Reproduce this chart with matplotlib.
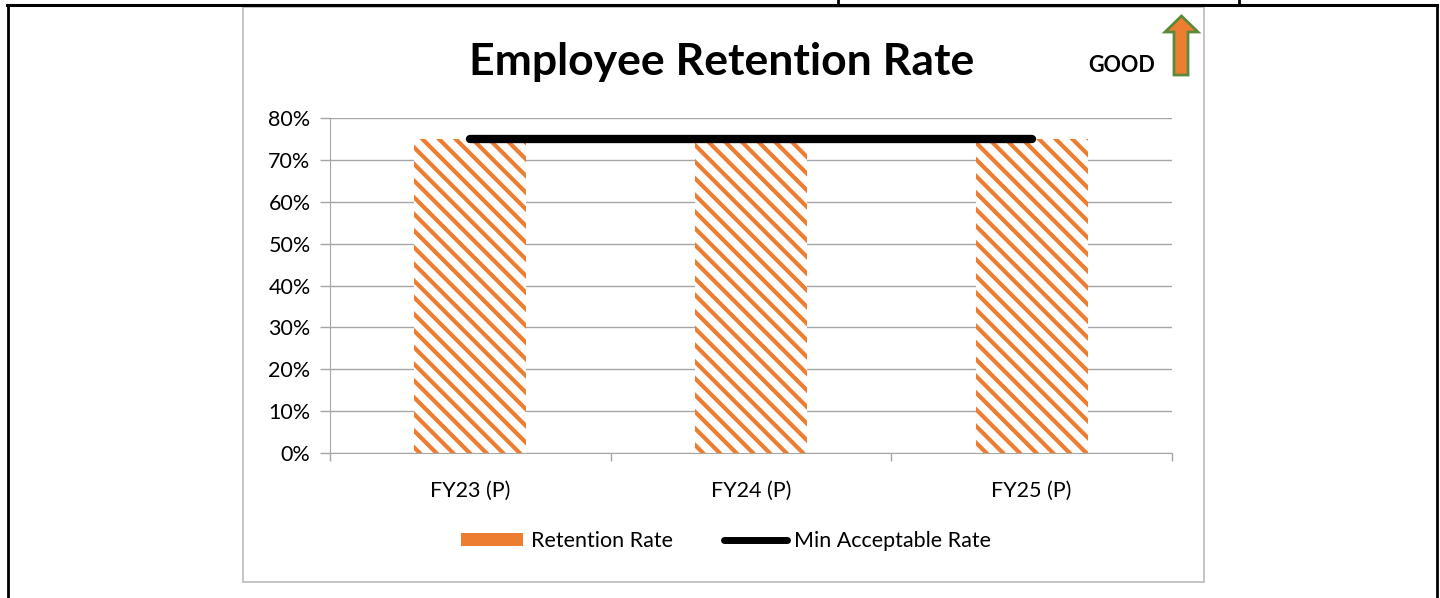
import matplotlib.pyplot as plt
from matplotlib.patches import Patch, Rectangle, Polygon
from matplotlib.lines import Line2D
from matplotlib.ticker import PercentFormatter

plt.rcParams['font.family'] = ['Lato', 'DejaVu Sans']
plt.rcParams['hatch.linewidth'] = 3.0

categories = ['FY23 (P)', 'FY24 (P)', 'FY25 (P)']
retention_rate = [0.75, 0.75, 0.75]
min_acceptable = [0.75, 0.75, 0.75]

ORANGE = '#ED7D31'
GRID = '#a6a6a6'
W, H = 1440, 598


def px(x, y):
    # pixel position (from top-left) -> figure fraction
    return x / W, 1 - y / H


fig = plt.figure(figsize=(W / 100, H / 100), dpi=100)

# page table borders
for xs, ys, lw in [((7, 1437), (5, 5), 2.2), ((8, 8), (5, 598), 2.0),
                   ((1437, 1437), (5, 598), 2.0), ((838, 838), (0, 5), 2.0),
                   ((1239, 1239), (0, 5), 2.0)]:
    p0, p1 = px(xs[0], ys[0]), px(xs[1], ys[1])
    fig.add_artist(Line2D([p0[0], p1[0]], [p0[1], p1[1]], color='black', lw=lw,
                          transform=fig.transFigure))

# chart frame
x0, y0 = px(243, 582)
fig.add_artist(Rectangle((x0, y0), (1204 - 243) / W, (582 - 7) / H, fill=False,
                         edgecolor='#bfbfbf', lw=1.3, transform=fig.transFigure))

ax = fig.add_axes([330 / W, 1 - 453 / H, 842 / W, 335 / H])
x = range(len(categories))
ax.bar(x, retention_rate, width=0.4, facecolor='white', edgecolor=ORANGE,
       hatch='\\\\', linewidth=0, zorder=2)
ax.plot(x, min_acceptable, color='black', lw=6, solid_capstyle='round', zorder=3)

ax.set_xlim(-0.5, 2.5)
ax.set_ylim(0, 0.8)
ax.set_yticks([i / 10 for i in range(9)])
ax.yaxis.set_major_formatter(PercentFormatter(1.0, decimals=0))
ax.set_xticks([-0.5, 0.5, 1.5, 2.5])
ax.set_xticklabels([])
ax.set_xticks(list(x), minor=True)
ax.set_xticklabels(categories, minor=True)
ax.tick_params(axis='x', which='minor', length=0, pad=20, labelsize=15.5)
ax.tick_params(axis='x', which='major', length=6, color=GRID, width=1)
ax.tick_params(axis='y', length=7, color=GRID, width=1, labelsize=15.5, pad=7)
ax.grid(axis='y', color=GRID, lw=1, zorder=0)
for s in ['top', 'right']:
    ax.spines[s].set_visible(False)
for s in ['left', 'bottom']:
    ax.spines[s].set_color(GRID)

fig.text(722 / W, 1 - 62 / H, 'Employee Retention Rate', ha='center', va='center',
         fontsize=32, fontweight='bold')
fig.text(1122 / W, 1 - 66 / H, 'GOOD', ha='center', va='center',
         fontsize=15.5, fontweight='bold')

arrow_pts = [px(1174, 75), px(1174, 32), px(1165, 32), px(1181.5, 16),
             px(1198, 32), px(1188, 32), px(1188, 75)]
fig.add_artist(Polygon(arrow_pts, closed=True, facecolor=ORANGE, edgecolor='#5a8a3a',
                       lw=2, transform=fig.transFigure))

handles = [Patch(facecolor=ORANGE, edgecolor='none'),
           Line2D([], [], color='black', lw=5, solid_capstyle='round')]
fig.legend(handles, ['Retention Rate', 'Min Acceptable Rate'], loc='center',
           bbox_to_anchor=px(726, 541), ncol=2, frameon=False, fontsize=15.5,
           handlelength=2.9, handleheight=0.55, handletextpad=0.35, columnspacing=2.4)

fig.savefig('out.png', dpi=100)
